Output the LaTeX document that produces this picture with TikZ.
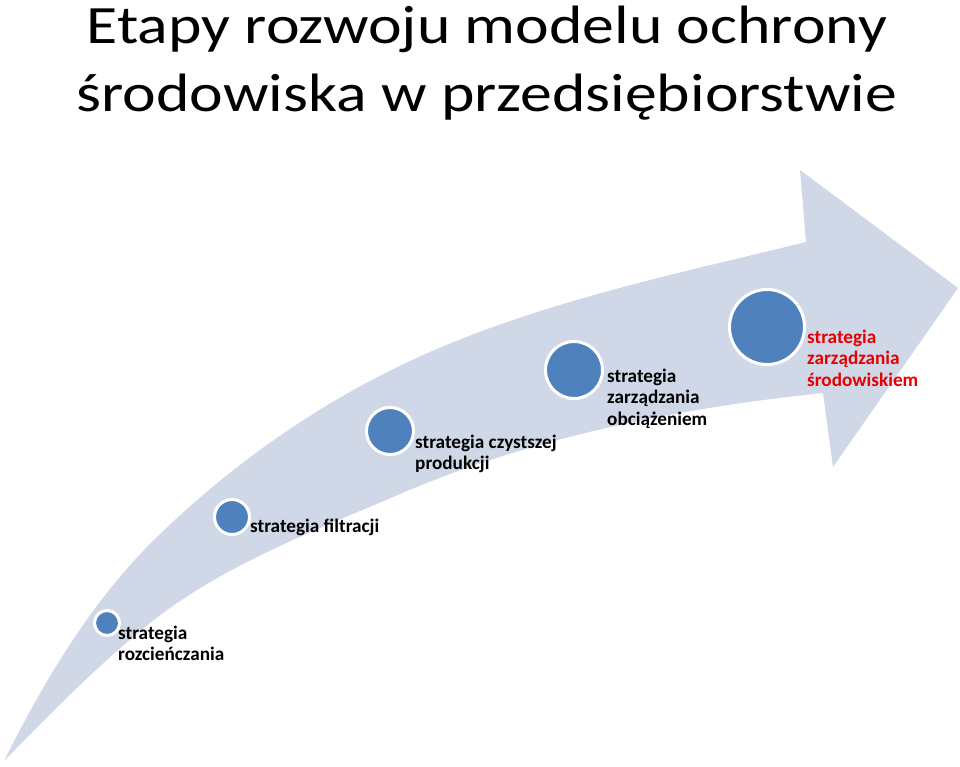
\documentclass[tikz,border=0pt]{standalone}
\usepackage{fontspec}
\setmainfont{Carlito}
\newfontfamily\titlefont[FakeStretch=1.18]{Carlito}
\definecolor{arrowfill}{HTML}{D0D8E8}
\definecolor{dotblue}{HTML}{4F81BD}
\definecolor{redtext}{HTML}{E60000}
\begin{document}
\begin{tikzpicture}[x=1pt,y=-1pt,
  dot/.style={circle,fill=dotblue,draw=white,line width=3pt,inner sep=0pt,outer sep=0pt},
  lbl/.style={anchor=base west,inner sep=0pt,font=\bfseries\fontsize{19.2}{21.5}\selectfont},
  ttl/.style={anchor=base,inner sep=0pt,font=\titlefont\fontsize{54}{68}\selectfont}]
\useasboundingbox (0,0) rectangle (960,767);
% big curved arrow
\fill[arrowfill] (4,761)
  .. controls (51,713) and (98,665) .. (150,623)
  .. controls (223,565) and (314,531) .. (400,494)
  .. controls (533,437) and (679,408) .. (823,393)
  -- (833,467) -- (958,288) -- (800,170) -- (806,242)
  .. controls (680,273) and (549,300) .. (430,352)
  .. controls (329,396) and (236,460) .. (157,537)
  .. controls (92,600) and (44,681) .. (4,761)
  -- cycle;
% title
\node[ttl] (title) at (487,44) {\begin{tabular}[t]{@{}c@{}}Etapy rozwoju modelu ochrony\\ środowiska w przedsiębiorstwie\end{tabular}};
% dots
\node[dot,minimum size=25pt] (c1) at (107,623) {};
\node[dot,minimum size=35pt] (c2) at (232,517) {};
\node[dot,minimum size=47pt] (c3) at (390,431) {};
\node[dot,minimum size=57pt] (c4) at (574,370) {};
\node[dot,minimum size=75pt] (c5) at (767,327) {};
% labels
\node[lbl] (t1) at (118,639) {\begin{tabular}[t]{@{}l@{}}strategia\\ rozcieńczania\end{tabular}};
\node[lbl] (t2) at (250,532) {strategia filtracji};
\node[lbl] (t3) at (415,448) {\begin{tabular}[t]{@{}l@{}}strategia czystszej\\ produkcji\end{tabular}};
\node[lbl] (t4) at (607,382) {\begin{tabular}[t]{@{}l@{}}strategia\\ zarządzania\\ obciążeniem\end{tabular}};
\node[lbl,text=redtext] (t5) at (807,343) {\begin{tabular}[t]{@{}l@{}}strategia\\ zarządzania\\ środowiskiem\end{tabular}};
\end{tikzpicture}
\end{document}
